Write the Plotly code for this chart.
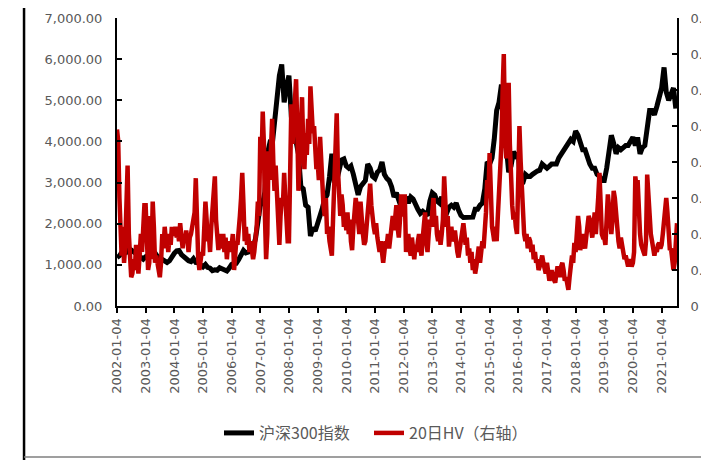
import plotly.graph_objects as go

# ---------------- data ----------------
# CSI 300 index, monthly (4th of each month), 2002-01 .. 2021-07
hs300_values = [
    1180, 1220, 1300, 1340, 1310, 1380, 1360, 1320, 1260, 1220, 1170, 1140,  # 2002
    1200, 1230, 1250, 1300, 1290, 1200, 1170, 1120, 1080, 1060, 1100, 1200,  # 2003
    1280, 1340, 1350, 1250, 1200, 1130, 1100, 1080, 1150, 1060, 1050, 1000,  # 2004
    950, 1010, 940, 920, 860, 880, 870, 930, 910, 870, 850, 920,             # 2005
    1010, 1040, 1040, 1130, 1280, 1350, 1290, 1310, 1380, 1420, 1640, 2040,  # 2006
    2450, 2500, 2780, 3700, 3950, 3900, 4470, 5200, 5600, 5870, 4950, 5340,  # 2007
    5600, 4600, 4100, 4000, 3700, 2900, 2850, 2450, 2400, 1700, 1900, 1820,  # 2008
    1990, 2140, 2370, 2600, 2700, 3140, 3700, 3000, 3050, 3300, 3550, 3575,  # 2009
    3400, 3350, 3400, 3200, 2900, 2700, 2900, 3000, 3050, 3450, 3350, 3150,  # 2010
    3100, 3250, 3300, 3500, 3200, 3100, 3050, 2900, 2650, 2750, 2600, 2400,  # 2011
    2450, 2650, 2500, 2650, 2600, 2450, 2350, 2250, 2300, 2250, 2200, 2550,  # 2012
    2750, 2700, 2550, 2500, 2650, 2250, 2250, 2400, 2450, 2400, 2500, 2330,  # 2013
    2200, 2150, 2150, 2150, 2170, 2160, 2350, 2350, 2450, 2500, 2850, 3500,  # 2014
    3450, 3600, 4050, 4750, 4950, 5380, 4000, 3900, 3250, 3400, 3750, 3650,  # 2015
    3700, 2950, 3000, 3200, 3150, 3150, 3200, 3250, 3280, 3300, 3450, 3400,  # 2016
    3350, 3400, 3450, 3450, 3450, 3600, 3700, 3800, 3850, 3950, 4050, 4000,  # 2017
    4250, 4150, 3950, 3800, 3800, 3600, 3450, 3350, 3350, 3200, 3150, 3050,  # 2018
    3050, 3350, 3800, 4150, 3950, 3700, 3850, 3800, 3850, 3900, 3900, 4000,  # 2019
    4100, 3900, 4100, 3700, 3850, 3900, 4300, 4750, 4750, 4650, 4850, 5050,  # 2020
    5300, 5800, 5200, 5000, 5150, 5300, 4800,                                # 2021
]

# 20-day historical volatility, twice a month (4th and 19th), 2002-01 .. 2021-07
hv20_values = [
    0.49, 0.46, 0.30, 0.24, 0.14, 0.22, 0.12, 0.17, 0.28, 0.39, 0.20, 0.12,
    0.08, 0.09, 0.13, 0.10, 0.17, 0.12, 0.09, 0.14, 0.20, 0.15, 0.24, 0.28,  # 2002
    0.28, 0.15, 0.10, 0.12, 0.25, 0.13, 0.29, 0.22, 0.12, 0.14, 0.11, 0.09,
    0.08, 0.12, 0.20, 0.16, 0.22, 0.18, 0.20, 0.15, 0.19, 0.17, 0.22, 0.20,  # 2003
    0.20, 0.22, 0.19, 0.21, 0.18, 0.23, 0.20, 0.16, 0.20, 0.18, 0.21, 0.17,
    0.15, 0.19, 0.20, 0.22, 0.24, 0.26, 0.355, 0.20, 0.13, 0.10, 0.12, 0.15,  # 2004
    0.14, 0.22, 0.29, 0.24, 0.18, 0.20, 0.15, 0.22, 0.26, 0.30, 0.36, 0.24,
    0.17, 0.155, 0.20, 0.16, 0.18, 0.20, 0.15, 0.19, 0.13, 0.17, 0.15, 0.18,  # 2005
    0.17, 0.20, 0.10, 0.14, 0.18, 0.17, 0.20, 0.25, 0.30, 0.37, 0.28, 0.18,
    0.22, 0.17, 0.20, 0.15, 0.18, 0.16, 0.13, 0.15, 0.18, 0.22, 0.29, 0.25,  # 2006
    0.47, 0.40, 0.54, 0.45, 0.25, 0.13, 0.20, 0.43, 0.35, 0.45, 0.52, 0.40,
    0.32, 0.39, 0.32, 0.22, 0.17, 0.25, 0.30, 0.28, 0.37, 0.30, 0.25, 0.18,  # 2007
    0.18, 0.40, 0.56, 0.45, 0.50, 0.55, 0.63, 0.50, 0.32, 0.40, 0.50, 0.58,
    0.45, 0.38, 0.48, 0.42, 0.52, 0.45, 0.61, 0.55, 0.48, 0.50, 0.45, 0.38,  # 2008
    0.40, 0.35, 0.47, 0.38, 0.30, 0.28, 0.25, 0.30, 0.20, 0.22, 0.18, 0.16,
    0.14, 0.24, 0.35, 0.45, 0.535, 0.38, 0.30, 0.25, 0.31, 0.28, 0.22, 0.25,  # 2009
    0.21, 0.26, 0.20, 0.24, 0.18, 0.155, 0.22, 0.25, 0.30, 0.27, 0.24, 0.20,
    0.29, 0.22, 0.20, 0.17, 0.18, 0.22, 0.25, 0.30, 0.34, 0.28, 0.24, 0.22,  # 2010
    0.20, 0.23, 0.19, 0.17, 0.15, 0.18, 0.13, 0.12, 0.15, 0.18, 0.17, 0.20,
    0.16, 0.19, 0.22, 0.25, 0.21, 0.24, 0.28, 0.22, 0.19, 0.24, 0.31, 0.26,  # 2011
    0.25, 0.31, 0.15, 0.18, 0.20, 0.16, 0.14, 0.19, 0.16, 0.13, 0.17, 0.15,
    0.18, 0.20, 0.16, 0.14, 0.19, 0.22, 0.26, 0.18, 0.15, 0.20, 0.24, 0.22,  # 2012
    0.26, 0.30, 0.22, 0.25, 0.20, 0.18, 0.21, 0.17, 0.20, 0.24, 0.36, 0.30,
    0.22, 0.25, 0.165, 0.20, 0.22, 0.18, 0.19, 0.21, 0.17, 0.15, 0.135, 0.16,  # 2013
    0.18, 0.20, 0.23, 0.20, 0.17, 0.19, 0.14, 0.16, 0.12, 0.15, 0.10, 0.13,
    0.09, 0.11, 0.14, 0.165, 0.12, 0.15, 0.18, 0.16, 0.20, 0.26, 0.35, 0.30,  # 2014
    0.425, 0.30, 0.22, 0.20, 0.18, 0.22, 0.18, 0.25, 0.30, 0.37, 0.45, 0.60,
    0.70, 0.50, 0.41, 0.55, 0.62, 0.45, 0.35, 0.28, 0.24, 0.26, 0.22, 0.20,  # 2015
    0.35, 0.50, 0.40, 0.30, 0.25, 0.20, 0.18, 0.20, 0.16, 0.19, 0.18, 0.15,
    0.17, 0.13, 0.15, 0.12, 0.13, 0.10, 0.11, 0.12, 0.14, 0.12, 0.10, 0.09,  # 2016
    0.12, 0.08, 0.07, 0.09, 0.10, 0.08, 0.07, 0.065, 0.09, 0.11, 0.10, 0.08,
    0.11, 0.12, 0.10, 0.07, 0.08, 0.06, 0.045, 0.08, 0.12, 0.14, 0.12, 0.175,  # 2017
    0.15, 0.20, 0.25, 0.22, 0.155, 0.18, 0.20, 0.17, 0.16, 0.19, 0.22, 0.25,
    0.24, 0.20, 0.19, 0.22, 0.26, 0.20, 0.24, 0.30, 0.37, 0.25, 0.20, 0.19,  # 2018
    0.19, 0.17, 0.25, 0.31, 0.28, 0.22, 0.20, 0.24, 0.32, 0.30, 0.25, 0.20,
    0.18, 0.16, 0.19, 0.17, 0.15, 0.13, 0.14, 0.12, 0.11, 0.13, 0.12, 0.11,  # 2019
    0.12, 0.15, 0.36, 0.33, 0.35, 0.25, 0.20, 0.17, 0.155, 0.15, 0.14, 0.18,
    0.365, 0.30, 0.25, 0.20, 0.18, 0.155, 0.14, 0.16, 0.15, 0.17, 0.175, 0.16,  # 2020
    0.17, 0.20, 0.25, 0.28, 0.30, 0.26, 0.20, 0.155, 0.16, 0.13, 0.10, 0.12,
    0.18, 0.23,                                                             # 2021
]

tick_labels = [f"{y}-01-04" for y in range(2002, 2022)]
left_ticks = [0, 1000, 2000, 3000, 4000, 5000, 6000, 7000]
right_ticks = [0, 0.1, 0.2, 0.3, 0.4, 0.5, 0.6, 0.7, 0.8]

series_names = ["沪深300指数", "20日HV（右轴）"]

# dates for the series
hs300_dates = [f"{2002 + i // 12}-{i % 12 + 1:02d}-04" for i in range(len(hs300_values))]
hv20_dates = []
for i in range(len(hv20_values)):
    m = i // 2
    d = "04" if i % 2 == 0 else "19"
    hv20_dates.append(f"{2002 + m // 12}-{m % 12 + 1:02d}-{d}")

FONT = "DejaVu Sans"
GRAY = "#595959"

fig = go.Figure()
fig.add_trace(go.Scatter(
    x=hs300_dates, y=hs300_values, name=series_names[0], mode="lines",
    line=dict(color="#000000", width=5), yaxis="y"))
fig.add_trace(go.Scatter(
    x=hv20_dates, y=hv20_values, name=series_names[1], mode="lines",
    line=dict(color="#C00000", width=4.5), yaxis="y2"))

# the page body has an 8px margin, so margins are reduced by 8px
fig.update_layout(
    width=709, height=460,
    margin=dict(l=109, r=40, t=10, b=162, autoexpand=False),
    paper_bgcolor="white", plot_bgcolor="white",
    font=dict(family=FONT, size=13, color=GRAY),
    showlegend=True,
    legend=dict(orientation="h", x=0.45, xanchor="center", y=-0.441, yanchor="middle",
                font=dict(family="Noto Sans CJK SC", size=16, color=GRAY),
                entrywidth=105, entrywidthmode="pixels", tracegroupgap=0),
    xaxis=dict(
        type="date", range=["2002-01-04", hv20_dates[-1]], automargin=False,
        tickmode="array", tickvals=tick_labels, ticktext=tick_labels,
        tickangle=-90, ticks="outside", ticklen=5, tickcolor="black", tickwidth=1.5,
        showline=True, linecolor="black", linewidth=2, showgrid=False, zeroline=False,
        tickfont=dict(family=FONT, size=13, color=GRAY)),
    yaxis=dict(
        range=[0, 7000], tickvals=left_ticks, tickformat=",.2f", automargin=False,
        ticks="inside", ticklen=5, tickcolor="black", tickwidth=1.5,
        showline=True, linecolor="black", linewidth=2, showgrid=False, zeroline=False,
        ticklabelstandoff=10,
        tickfont=dict(family=FONT, size=13, color=GRAY)),
    yaxis2=dict(
        range=[0, 0.8], tickvals=right_ticks, overlaying="y", side="right", automargin=False,
        ticks="inside", ticklen=5, tickcolor="black", tickwidth=1.5,
        showline=True, linecolor="black", linewidth=2, showgrid=False, zeroline=False,
        ticklabelstandoff=9,
        tickfont=dict(family=FONT, size=13, color=GRAY)),
    shapes=[
        dict(type="line", xref="paper", yref="paper", x0=-0.193, x1=1.06,
             y0=1.0434, y1=1.0434, line=dict(color="black", width=3)),
        dict(type="line", xref="paper", yref="paper", x0=-0.166, x1=-0.166,
             y0=1.0434, y1=-0.56, line=dict(color="black", width=2.5)),
        dict(type="line", xref="paper", yref="paper", x0=-0.166, x1=1.06,
             y0=-0.524, y1=-0.524, line=dict(color="#7f7f7f", width=1.5)),
    ],
)

fig.write_html("out.html")
